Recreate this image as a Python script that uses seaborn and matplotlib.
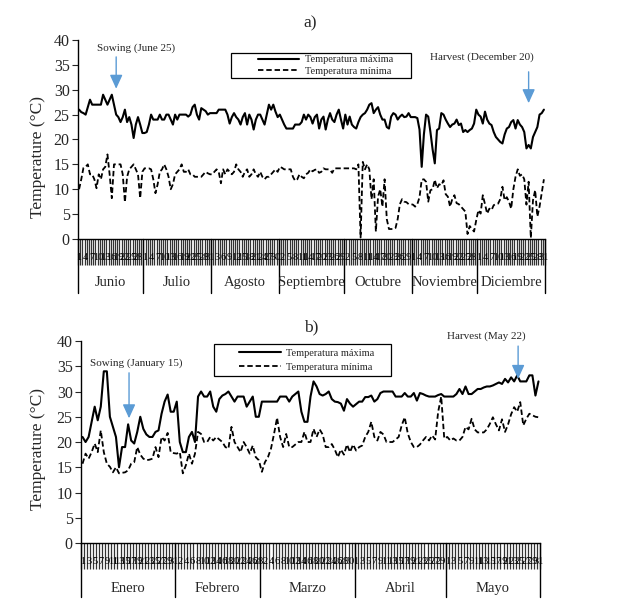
import numpy as np
import pandas as pd
import matplotlib
matplotlib.use('Agg')
import matplotlib.pyplot as plt
import seaborn as sns

# ---- panel a: June - December ----
a_months = ['Junio', 'Julio', 'Agosto', 'Septiembre', 'Octubre', 'Noviembre', 'Diciembre']
a_month_days = [30, 31, 31, 30, 31, 30, 31]
a_tmax = [
    26, 25.5, 25.3, 25, 26.5, 28, 27, 27, 27, 27, 27, 29, 28, 27, 28, 29, 27, 25, 24.5, 23.5,
    24.5, 26, 23.5, 24.5, 23, 20.3, 23, 24.5, 23, 21.3,
    21.3, 21.5, 23, 25, 24, 24, 24, 25, 24, 24, 25, 25, 24, 23, 25, 24, 25, 25, 25, 25,
    24.6, 25, 26.5, 27, 25, 24, 26.3, 26, 25.7, 25, 25.3,
    25.3, 25.3, 25.3, 26, 26, 26, 26, 25, 23.2, 24.5, 25.3, 24.5, 24, 23, 24.5, 25.3, 23, 25, 24, 22,
    24, 25, 25, 24, 23, 25, 27, 26, 27, 25.6, 24.5,
    25, 24, 23, 22.2, 22.2, 22.2, 22.2, 23, 23, 23, 23.5, 25, 24, 25, 24.5, 23.2, 24.5, 25, 22.2, 24,
    24.6, 22, 24, 25.3, 24, 23.5, 25, 26, 24, 22.2,
    25, 23, 24.6, 23, 22.5, 22.2, 23.5, 24.5, 25, 25.3, 26, 27, 27.3, 25.3, 26, 26.5, 25, 24, 24, 22.5,
    22.2, 24.6, 25.3, 25, 24, 24.6, 25, 24.5, 24.6, 25.3, 24.5,
    24.5, 24.5, 24.3, 22, 14.5, 21, 25, 24.6, 21.5, 18, 15.2, 21.9, 22.2, 25.3, 25, 24, 23.2, 22.5, 23, 23.2,
    24, 22.9, 23.2, 21.5, 21.9, 21.5, 21.9, 22.2, 23.2, 26,
    25, 24.6, 23.2, 25.6, 24, 23.2, 22.9, 21.5, 20.5, 20, 19.5, 19.2, 21, 22.2, 22.5, 23.5, 23.9, 22.2, 23.9, 23,
    22.5, 21.5, 18.2, 18.9, 18.2, 20.5, 21.5, 22.5, 25, 25.3, 26,
]
a_tmin = [
    10, 12, 14.3, 14.5, 15, 13, 13, 12, 10.2, 13, 12, 14, 14.5, 17, 13, 8.2, 15, 15, 15, 15,
    13, 7.4, 12.5, 14, 14.5, 15, 14, 13, 8.2, 13.5,
    14.2, 14.2, 14.2, 14, 12, 9.2, 11, 13.5, 14, 15, 14, 12.5, 10, 11, 13, 13.5, 14, 15, 13.5, 13.5,
    14, 13, 13, 12.5, 12.5, 12.5, 12.5, 13, 13.5, 13.2, 13,
    13, 13.5, 14, 13.5, 11.2, 14, 13, 14, 13.5, 13, 13.5, 15, 14, 13.5, 12.5, 13.5, 14, 12.5, 13, 14,
    13, 12.5, 13.5, 12.5, 12, 12.5, 12.5, 13, 13.5, 14, 13.5,
    14.5, 14.3, 14, 14, 14, 14, 12.5, 11.7, 12, 13, 12.5, 12.2, 13, 13.3, 14, 13.6, 13.9, 14, 13.3, 13.5,
    14.2, 14, 14, 13.9, 13.3, 14.2, 14.2, 14.2, 14.2, 14.2,
    14.2, 14.2, 14.2, 14.2, 14.2, 14, 15, 0.3, 15.5, 14, 15, 14, 8, 12, 1.5, 8.5, 10, 6.5, 12, 4,
    2, 2, 2, 2.2, 4, 7, 8, 7.5, 7.4, 7, 7,
    6.9, 6.5, 7, 8.4, 11.9, 12, 11.5, 7.5, 9.8, 10, 11.9, 10.2, 11, 10.8, 11.8, 9, 8.5, 6.5, 8, 8.8,
    7.2, 7, 6.5, 6, 5.5, 1, 2.6, 2, 1.5, 3.8,
    5.8, 5.1, 8.8, 7, 5.1, 6.1, 5.8, 6.8, 7, 7.1, 8, 10.5, 7.8, 8.4, 7.5, 6.1, 10, 12.5, 14, 12.7,
    13, 12, 6.9, 11.5, 0.2, 7.8, 9.8, 4.5, 6.5, 9.2, 12,
]

# ---- panel b: January - May ----
b_months = ['Enero', 'Febrero', 'Marzo', 'Abril', 'Mayo']
b_month_days = [31, 28, 31, 30, 31]
b_tmax = [
    21, 20, 21, 24, 27, 24.3, 27, 34, 34, 25, 23, 21, 15, 19, 19, 23.5, 20.3, 19.7, 22, 25,
    22.6, 21.5, 21, 21, 22, 22.3, 25.6, 28, 29.4, 26, 26,
    28, 20, 18, 18, 21, 22, 20, 29, 30, 29, 29, 30, 27, 26, 28.5, 29.2, 29.5, 30, 29, 28,
    29, 29, 29, 27, 28, 29, 25, 25,
    28, 28, 28, 28, 28, 28, 29, 29, 29, 28, 29, 29.5, 30, 26, 24, 24, 29, 32, 31, 29.5,
    29.2, 29.5, 30, 28.5, 28, 27.9, 27.6, 26.2, 28.5, 27.6, 27,
    27.5, 28, 28, 28.9, 28.9, 29.2, 28, 28.5, 29.7, 30, 30, 30, 30, 29, 29, 29, 29.7, 29, 29, 29.7,
    28.2, 29.7, 29.5, 29.2, 29, 29, 29, 29.3, 29.5, 29,
    29, 29, 29, 29.5, 30.5, 29.5, 31, 29.5, 29.5, 30, 30.5, 30.5, 30.8, 31, 31, 31.2, 31.5, 31.8, 31.5, 32.5,
    31.8, 32.8, 32, 33.2, 32, 32, 32, 33.2, 33.2, 29.2, 32,
]
b_tmin = [
    15.7, 17.7, 16.7, 18, 19.7, 18, 22.3, 18, 15.7, 15.1, 14, 15, 13.8, 13.9, 14, 14.4, 15.7, 16, 19, 17.5,
    16.7, 16.4, 16.5, 16.7, 19, 17, 21, 20.3, 21.8, 18, 17.8,
    17.7, 18, 13.8, 15.4, 17.7, 15.7, 17.7, 22, 21.6, 20, 20, 21, 20.3, 21, 20.5, 20, 19, 18.7, 23, 20,
    19, 18, 20, 19, 17.7, 19.3, 17, 16.4,
    14.1, 16, 17, 18.7, 21.6, 24.8, 21, 19, 21.6, 19, 19, 19.5, 20, 20, 22, 20, 20, 22.6, 21, 22.5,
    21.5, 19, 19, 19.6, 18.5, 17, 18.5, 17.5, 19.5, 18, 19.5,
    18.3, 19, 19.3, 21, 22, 24, 21, 20.3, 22, 21.5, 20, 20, 20, 20.5, 21, 23.3, 24.9, 21.7, 20, 19,
    19, 19.5, 20.3, 21, 20.3, 21.3, 20.5, 26, 29, 20.7,
    21, 20.3, 20.7, 20.3, 20.3, 21, 23, 22.5, 24.6, 22.5, 21.9, 21.9, 21.9, 22.5, 23.6, 24.9, 23.5, 22.3, 24.5, 22,
    23.5, 25.5, 26.9, 26, 27.9, 23.3, 24.6, 25.6, 25.3, 25, 24.9,
]

ARROW_COLOR = '#5B9BD5'

sns.set_style('white')
plt.rcParams['font.family'] = ['Liberation Serif', 'DejaVu Serif']


def draw_panel(ax, months, month_days, tmax, tmin, step, sep_bottom, month_y, ylab_xy):
    n = len(tmax)
    df = pd.DataFrame({'day': np.arange(n), 'tmax': tmax, 'tmin': tmin})
    sns.lineplot(data=df, x='day', y='tmax', ax=ax, color='black', lw=1.5,
                 label='Temperatura máxima')
    sns.lineplot(data=df, x='day', y='tmin', ax=ax, color='black', lw=1.3,
                 linestyle=(0, (3, 1.6)), label='Temperatura mínima')

    ax.set_xlim(-0.5, n - 0.5)
    ax.set_ylim(0, 40)
    ax.set_yticks(range(0, 41, 5))
    ax.tick_params(axis='y', length=4, width=0.8, direction='out', labelsize=11.5, pad=2, left=True)
    for s in ['top', 'right']:
        ax.spines[s].set_visible(False)
    for s in ['left', 'bottom']:
        ax.spines[s].set_color('black')
        ax.spines[s].set_linewidth(1)

    # day ticks (every category) and day-of-month labels
    dom = np.concatenate([np.arange(1, d + 1) for d in month_days])
    ax.set_xticks(np.arange(n + 1) - 0.5)
    ax.tick_params(axis='x', which='major', length=19, width=0.9, color='#333333',
                   direction='out', labelbottom=False, bottom=True)
    pos = np.arange(n)[::step]
    ax.set_xticks(pos, minor=True)
    ax.set_xticklabels([str(d) for d in dom[::step]], minor=True, fontsize=7.5)
    ax.tick_params(axis='x', which='minor', length=0, pad=10, colors='black')
    ax.set_xlabel('')

    # month separators and names
    edges = np.concatenate([[0], np.cumsum(month_days)]) - 0.5
    tr = ax.get_xaxis_transform()
    for e in edges:
        ax.plot([e, e], [0, sep_bottom], transform=tr, clip_on=False, color='black', lw=1)
    for name, lo, hi in zip(months, edges[:-1], edges[1:]):
        ax.text((lo + hi) / 2, month_y, name, transform=tr, ha='center', va='center', fontsize=10.5)

    ax.set_ylabel('Temperature (°C)', fontsize=12.5)
    ax.yaxis.set_label_coords(*ylab_xy)


def legend_box(ax, x0, x1, y0, y1, hx, spacing):
    ax.add_patch(plt.Rectangle((x0, y0), x1 - x0, y1 - y0, transform=ax.transAxes,
                               fill=False, edgecolor='black', lw=0.9, clip_on=False))
    leg = ax.legend(loc='center left', bbox_to_anchor=(hx, (y0 + y1) / 2), frameon=False,
                    fontsize=7.5, handlelength=4.0, handletextpad=0.5, borderpad=0,
                    borderaxespad=0, labelspacing=spacing)
    return leg


def arrow(ax, x, y_tail, y_tip):
    ax.annotate('', xy=(x, y_tip), xytext=(x, y_tail), annotation_clip=False,
                arrowprops=dict(arrowstyle='-|>,head_length=0.7,head_width=0.32', color=ARROW_COLOR,
                                lw=1, shrinkA=0, shrinkB=0, mutation_scale=12))


fig = plt.figure(figsize=(6.17, 6.07), dpi=100)
ax_a = fig.add_axes([0.1264, 0.6063, 0.7569, 0.3278])
ax_b = fig.add_axes([0.1313, 0.1054, 0.7439, 0.3328])

draw_panel(ax_a, a_months, a_month_days, a_tmax, a_tmin, 3, -0.271, -0.221, (-0.0685, 0.41))
draw_panel(ax_b, b_months, b_month_days, b_tmax, b_tmin, 2, -0.267, -0.223, (-0.076, 0.465))

legend_box(ax_a, 0.3276, 0.713, 0.809, 0.935, 0.385, 0.2)
legend_box(ax_b, 0.2898, 0.6754, 0.8267, 0.985, 0.344, 0.45)

# sowing / harvest marks
arrow(ax_a, 17, 36.6, 30.2)
ax_a.text(26, 38.3, 'Sowing (June 25)', ha='center', va='center', fontsize=8)
arrow(ax_a, 206, 33.6, 27.3)
ax_a.text(184.5, 36.6, 'Harvest (December 20)', ha='center', va='center', fontsize=8)

arrow(ax_b, 15.3, 33.7, 24.7)
ax_b.text(17.6, 35.7, 'Sowing (January 15)', ha='center', va='center', fontsize=8)
arrow(ax_b, 143.3, 39, 32.5)
ax_b.text(133, 41, 'Harvest (May 22)', ha='center', va='center', fontsize=8, clip_on=False)

fig.text(310 / 617, 1 - 23 / 607, 'a)', ha='center', va='center', fontsize=12.5)
fig.text(311 / 617, 1 - 327 / 607, 'b)', ha='center', va='center', fontsize=12.5)

fig.savefig('out.png', dpi=100, facecolor='white')
